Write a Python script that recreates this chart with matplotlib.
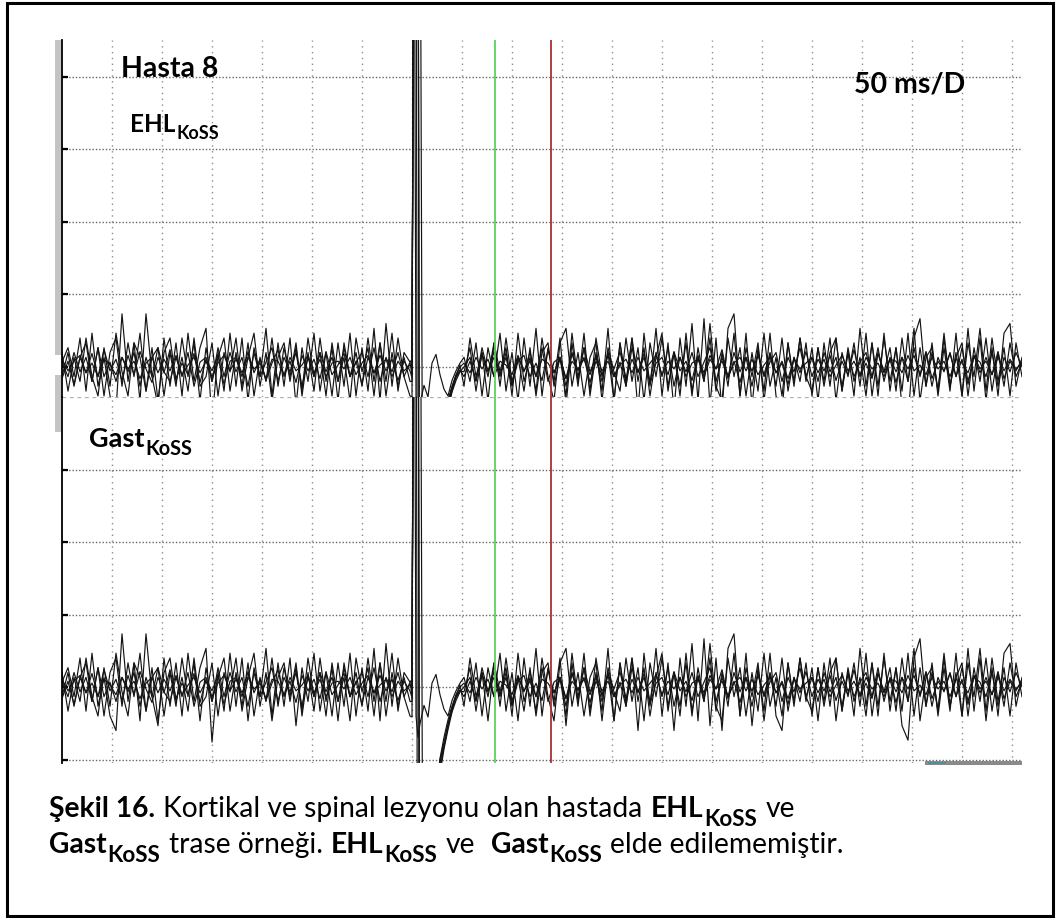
import numpy as np
import matplotlib
matplotlib.use("Agg")
import matplotlib.pyplot as plt
from matplotlib.patches import Rectangle

FONT = "Lato"

# sensitivity: microvolts per vertical division
SENS = 75.0

# sweep values in microvolts, the same sweeps are shown in both panels
# pre-stimulus part (0 .. 348 ms)
pre = [
    [5, 20, -10, 30, -25, 35, -20, 10, -30, -45,
     55, -15, 25, -35, 55, -10, -40, 30, -20, 25,
     -30, 35, -15, 20, 40, -57, 15, -25, 35, -20,
     30, -35, 20, -10, 40, -30, 25, -20, 30, -40,
     20, -15, 35, -25, 15, -30, 25, -20, 35, -30,
     20, -25, 40, -35, 45, -20, 30, -10, -30],
    [-10, 15, -20, 10, 25, -15, 20, -30, 15, 30,
     -20, 25, -10, 35, -25, 10, 20, -30, 15, -20,
     30, -10, 25, -35, 20, -15, 10, 30, -25, 15,
     -20, 25, -30, 10, -15, 30, -20, 20, -10, 25,
     -30, 15, -25, 30, -15, 20, -35, 25, -10, 15,
     -20, 30, -15, 25, -30, 15, -20, 10, -15],
    [5, -10, 15, -5, 10, -15, 20, -10, 5, -15,
     10, -5, 15, -20, 10, -10, 20, -5, -15, 10,
     -10, 15, -20, 5, 10, -15, 20, -10, 15, -5,
     10, -20, 15, -10, 5, 20, -15, 10, -5, 15,
     -20, 10, -10, 15, -5, 10, -15, 20, -10, 5,
     15, -10, 20, -15, 10, -5, 15, -10, 5],
    [8, -4, 6, 12, -6, 4, -10, 8, 2, -8,
     10, -2, 6, -12, 4, 10, -6, 8, -4, 12,
     -8, 2, 10, -6, 6, -10, 4, 12, -4, 8,
     -6, 10, -2, 4, -12, 8, 6, -8, 10, -4,
     2, 12, -6, 8, -10, 4, 6, -2, 10, -8,
     4, 12, -6, 2, 8, -10, 6, -4, 2],
    [-12, 6, -18, 10, -6, 14, -10, 18, -4, 8,
     -14, 12, -8, 16, -2, -16, 10, -6, 18, -12,
     4, -8, 14, -16, 8, -4, 12, -18, 6, 10,
     -10, 16, -6, 8, -14, 4, 18, -10, 6, -16,
     12, -4, 8, -12, 16, -8, 2, 14, -10, 6,
     -18, 10, -6, 12, -4, 8, -14, 6, -4],
    [15, -25, 10, -15, 30, -10, -30, 20, -20, 35,
     -5, -30, 25, 10, -25, 20, -35, 15, 30, -15,
     10, -25, 30, -20, -10, 25, -30, 15, -5, 30,
     -25, 10, 35, -20, 15, -35, 10, 25, -15, 20,
     -25, 30, -10, 15, -30, 25, -15, 10, -35, 30,
     -5, 20, -30, 25, -15, 35, -25, 15, 5],
]

# stimulus artefact and recovery (microvolts)
art_t = [350, 352, 354, 356, 358, 362, 366, 370, 374, 378, 382, 386, 390, 394, 398]
art = [
    [-31, 600, -30, -52, -38, -19, -31, 4, 13, -8, -23, -30, -14, -4, 4],
    [-15, 600, 600, 600, -600, -600, -600, -600, -128, -79, -60, -41, -23, -11, -4],
    [-8, 590, 600, 600, -600, -600, -600, -600, -142, -90, -64, -44, -26, -14, -5],
    [0, 600, 600, -600, -600, -600, -600, -600, -112, -74, -52, -34, -20, -8, 0],
    [-11, 600, 600, 600, 600, -600, -600, -600, -135, -84, -62, -40, -25, -10, -3],
    [8, 600, 600, 600, -600, -600, -600, -600, -120, -75, -57, -38, -21, -9, 2],
]

# post-stimulus part (402 .. 960 ms)
post = [
    [10, -15, 25, -30, 20, -10, 35, -25, 15, -35,
     30, -20, 40, -30, 20, -15, 30, -40, 25, -20,
     35, -30, 15, -25, 40, -35, 25, -15, 30, -45,
     35, -20, 40, -30, 25, -45, 30, -20, 45, -35,
     50, -40, 30, -45, 40, 55, -30, 35, -40, 20,
     -25, 35, -30, -45, 25, -20, 30, -15, 20, -35,
     25, -20, 30, -25, 15, -30, 40, -20, 25, -30,
     35, -25, 20, -40, -55, 30, 50, -20, 25, -30,
     20, -25, 35, -30, 40, -25, 30, -35, 20, -30,
     35, 45, -20, 10],
    [-5, 20, -25, 15, -10, 25, -20, 30, -15, 10,
     -25, 20, -30, 15, 25, -20, 10, -30, 35, -15,
     20, -25, 30, -10, 15, -35, 25, -20, 30, -15,
     20, -30, 10, 35, -25, 15, -20, 25, -30, 20,
     -15, 30, -25, 15, -20, 35, -30, 20, -10, 25,
     -35, 15, -20, 30, -25, 10, -15, 25, -30, 20,
     -20, 15, 30, -25, 20, -15, 10, -30, 25, -20,
     30, -15, 20, -25, 35, -30, 20, -20, 15, -25,
     30, -20, 10, 25, -30, 20, -15, 30, -25, 15,
     -20, 25, -10, 5],
    [0, 10, -15, 20, -5, 10, -10, 15, -20, 10,
     -5, 15, -10, 20, -15, 5, 10, -20, 15, -10,
     20, -5, 10, -15, 15, -10, 5, -20, 20, -5,
     10, -15, 15, -10, 20, -20, 10, -5, 15, -10,
     5, 20, -15, 10, -10, 15, -5, 10, -20, 15,
     -10, 5, 15, -15, 10, -5, 20, -10, 10, -15,
     15, -5, 10, -20, 15, -10, 5, 15, -10, 20,
     -15, 10, -5, 10, -15, 20, -10, 15, -20, 10,
     -5, 15, -10, 20, -15, 10, 5, -10, 15, -20,
     10, -5, 15, 0],
    [4, -6, 10, -2, 8, -10, 6, 2, -8, 12,
     -4, 6, -10, 8, 4, -6, 10, -12, 6, -2,
     8, -8, 12, -4, 6, -10, 2, 8, -6, 10,
     -4, 4, 12, -8, 6, -2, 10, -10, 4, 8,
     -6, 12, -2, 6, -10, 4, 10, -4, 8, -8,
     2, 10, -6, 6, -12, 8, -2, 4, 10, -6,
     8, -10, 2, 12, -4, 6, -8, 10, -2, 4,
     -10, 8, 6, -6, 12, -4, 2, -8, 10, -2,
     6, -10, 8, 4, -6, 12, -2, 6, -8, 10,
     -4, 8, -2, 4],
    [-10, 6, -14, 12, -4, 16, -8, 10, -18, 6,
     12, -10, 4, -14, 18, -6, 8, -12, 14, -4,
     10, -16, 6, -8, 12, -2, 16, -12, 8, -6,
     14, -18, 4, 10, -8, 16, -4, 6, -14, 12,
     -10, 8, -2, 18, -12, 6, -16, 10, -4, 12,
     -8, 14, -6, 4, -18, 10, -6, 16, -10, 8,
     -4, 12, -14, 6, -8, 18, -10, 4, -12, 14,
     -6, 8, -16, 10, -2, 12, -8, 16, -12, 6,
     -4, 14, -10, 8, -18, 12, -6, 10, -8, 16,
     -12, 6, -4, 8],
    [-20, 30, -10, 15, -35, 25, -5, 20, -30, 35,
     -15, 10, -25, 30, -10, -35, 25, 40, -20, 15,
     -30, 10, 25, -35, 20, -5, -25, 30, -15, 20,
     -35, 25, -10, 30, -20, 15, -30, 35, -25, 10,
     -15, 45, -20, -35, 30, -10, 20, -30, 15, -25,
     35, -20, 10, -30, 25, -15, 30, -10, -25, 20,
     -15, 30, -35, 15, -10, 25, -20, 35, -30, 15,
     -5, 20, -25, 30, -15, 40, -35, 10, 20, -25,
     35, -20, 15, -30, 25, -10, 40, -25, 30, -15,
     20, -30, 25, -10],
]

cursor_green = 433
cursor_red = 489

W, H = 1056, 918
fig = plt.figure(figsize=(W / 100, H / 100), dpi=100)
fig.patch.set_facecolor("white")


def rect(x0, y0, x1, y1):
    return [x0 / W, 1 - y1 / H, (x1 - x0) / W, (y1 - y0) / H]


ax_top = fig.add_axes(rect(62, 40, 1022, 397))
ax_bot = fig.add_axes(rect(62, 397, 1022, 763))

panels = [(ax_top, (-0.414, 4.51), [0, 1, 2, 3, 4]),
          (ax_bot, (-1.048, 4.0), [-1, 0, 1, 2, 3])]

for ax, ylim, hgrid in panels:
    ax.set_xlim(0, 960)
    ax.set_ylim(*ylim)
    ax.patch.set_alpha(0)
    for s in ["top", "right", "bottom"]:
        ax.spines[s].set_visible(False)
    ax.spines["left"].set_color("black")
    ax.spines["left"].set_linewidth(1.3)
    ax.set_xticks([])
    ax.set_yticks(hgrid)
    ax.set_yticklabels([])
    ax.tick_params(axis="y", direction="in", length=4, width=1.6, color="black")
    for t in range(50, 960, 50):
        ax.axvline(t, color="#8c8c8c", lw=1.0, ls=(0, (1, 3.2)), zorder=1)
    for g in hgrid:
        ax.axhline(g, color="#666666", lw=1.0, ls=(0, (1, 1.4)), zorder=1)

    for p, a, q in zip(pre, art, post):
        t = np.concatenate([np.linspace(0, 348, len(p)), art_t,
                            np.linspace(402, 960, len(q))])
        y = np.concatenate([p, a, q]) / SENS
        ax.plot(t, y, color="#141414", lw=0.85, zorder=2,
                solid_joinstyle="round")

    ax.axvline(cursor_green, color="#5ad35a", lw=1.3, zorder=3)
    ax.axvline(cursor_red, color="#a83232", lw=1.3, zorder=3)

ax_bot.axhline(4.0, color="#b0b0b0", lw=0.9, ls=(0, (3, 3)), zorder=1)

# grey markers left of the traces and bottom-right bar
fig.add_artist(Rectangle((55 / W, 1 - 355 / H), 6 / W, 315 / H,
                         transform=fig.transFigure, color="#c4c4c4", lw=0))
fig.add_artist(Rectangle((55 / W, 1 - 432 / H), 6 / W, 57 / H,
                         transform=fig.transFigure, color="#c4c4c4", lw=0))
fig.add_artist(Rectangle((925 / W, 1 - 765 / H), 97 / W, 4 / H,
                         transform=fig.transFigure, color="#8a8a8a", lw=0))
fig.add_artist(Rectangle((928 / W, 1 - 764 / H), 18 / W, 2 / H,
                         transform=fig.transFigure, color="#4f8f99", lw=0))

# outer frame
fig.add_artist(Rectangle((7 / W, 1 - 916 / H), 1046 / W, 913 / H,
                         transform=fig.transFigure, fill=False,
                         edgecolor="black", lw=2.2))

renderer = fig.canvas.get_renderer()


def space_w(fs):
    a = fig.text(0, 0, "n n", fontsize=fs, family=FONT)
    b = fig.text(0, 0, "nn", fontsize=fs, family=FONT)
    w = a.get_window_extent(renderer).width - b.get_window_extent(renderer).width
    a.remove()
    b.remove()
    return w


def rich(x, y, parts, size, sub_ratio=0.74):
    for part in parts:
        if part == " ":
            x += space_w(size)
            continue
        s, bold, sub = part
        fs = size * sub_ratio if sub else size
        dy = size * 0.42 if sub else 0
        t = fig.text(x / W, 1 - (y + dy) / H, s, fontsize=fs,
                     fontweight="bold" if bold else "normal", family=FONT,
                     va="baseline", ha="left", color="black")
        x += t.get_window_extent(renderer).width + 1


rich(121, 77, [("Hasta 8", True, False)], 20.5)
rich(130, 132, [("EHL", True, False), ("KoSS", True, True)], 17.5)
rich(89, 447, [("Gast", True, False), ("KoSS", True, True)], 19.5)
rich(854, 92, [("50 ms/D", True, False)], 20.5)

CAP = 20.3
rich(49, 817, [("Şekil 16.", True, False), " ",
               ("Kortikal ve spinal lezyonu olan hastada", False, False), " ",
               ("EHL", True, False), ("KoSS", True, True), " ",
               ("ve", False, False)], CAP, 0.8)
rich(49, 853, [("Gast", True, False), ("KoSS", True, True), " ",
               ("trase örneği.", False, False), " ",
               ("EHL", True, False), ("KoSS", True, True), " ",
               ("ve", False, False), " ", " ",
               ("Gast", True, False), ("KoSS", True, True), " ",
               ("elde edilememiştir.", False, False)], CAP, 0.8)

fig.savefig("out.png", dpi=100)
